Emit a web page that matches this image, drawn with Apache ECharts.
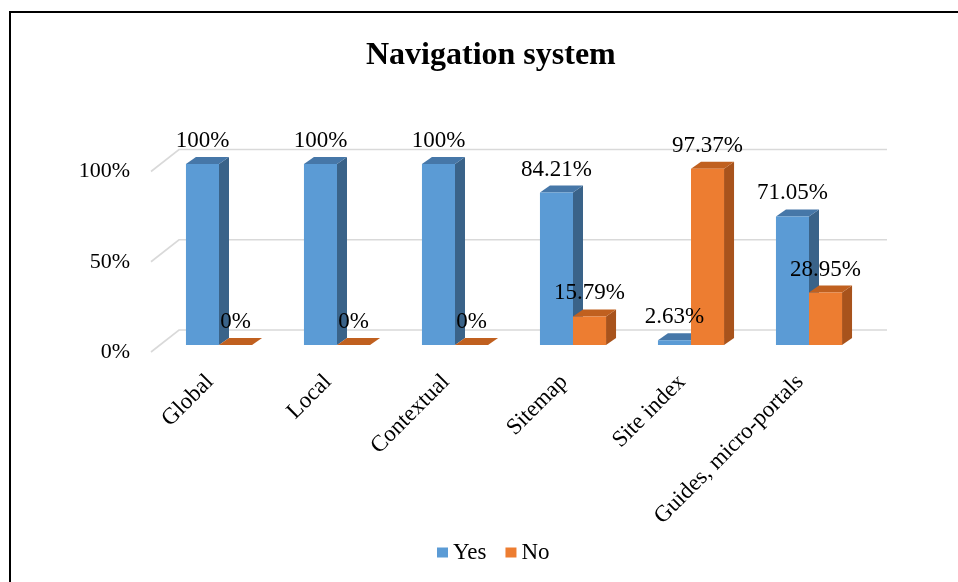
<!DOCTYPE html>
<html>
<head>
<meta charset="utf-8">
<script src="https://cdn.jsdelivr.net/npm/echarts@6/dist/echarts.min.js"></script>
<style>
html,body{margin:0;padding:0;background:#fff;}
#chart{width:958px;height:582px;}
</style>
</head>
<body>
<div id="chart"></div>
<script>
const categories = ['Global', 'Local', 'Contextual', 'Sitemap', 'Site index', 'Guides, micro-portals'];
const yesValues = [100, 100, 100, 84.21, 2.63, 71.05];
const noValues = [0, 0, 0, 15.79, 97.37, 28.95];
const yTicks = [0, 50, 100];

const FONT = "'Liberation Serif', 'Times New Roman', serif";
const DEPTH = [10, -7];      // bar depth (pixels)
const WALL = [28, -22];      // front plane -> back wall offset
const BAR_FRAC = 0.28;       // bar width as fraction of category band

const palette = {
  Yes: { front: '#5b9bd5', side: '#3a6389', top: '#4677a8' },
  No:  { front: '#ed7d31', side: '#a8531c', top: '#c0601f' }
};

function fmt(v) { return v + '%'; }

function barRenderer(name, isLeft) {
  const c = palette[name];
  return function (params, api) {
    const idx = api.value(0), val = api.value(1);
    const base = api.coord([idx, 0]);
    const top = api.coord([idx, val]);
    const band = api.size([1, 0])[0];
    const w = band * BAR_FRAC;
    const x0 = isLeft ? base[0] - w : base[0];
    const yT = top[1], yB = base[1];
    const dx = DEPTH[0], dy = DEPTH[1];
    return {
      type: 'group',
      children: [
        { type: 'polygon', shape: { points: [[x0 + w, yT], [x0 + w + dx, yT + dy], [x0 + w + dx, yB + dy], [x0 + w, yB]] },
          style: { fill: c.side } },
        { type: 'polygon', shape: { points: [[x0, yT], [x0 + dx, yT + dy], [x0 + w + dx, yT + dy], [x0 + w, yT]] },
          style: { fill: c.top } },
        { type: 'rect', shape: { x: x0, y: yT, width: w, height: yB - yT },
          style: { fill: c.front } },
        { type: 'text', z2: 100, style: { text: fmt(val), x: x0 + w / 2, y: yT - 23, align: 'center', verticalAlign: 'middle',
          font: '23px ' + FONT, fill: '#000' } }
      ]
    };
  };
}

const chart = echarts.init(document.getElementById('chart'), null, { renderer: 'canvas' });
chart.setOption({
  backgroundColor: '#fff',
  animation: false,
  title: {
    text: 'Navigation system',
    left: 361,
    top: 35,
    textStyle: { fontFamily: FONT, fontSize: 32, fontWeight: 'bold', color: '#000' }
  },
  legend: {
    data: ['Yes', 'No'],
    left: 432,
    top: 536,
    icon: 'rect',
    itemWidth: 11,
    itemHeight: 10,
    itemGap: 19,
    textStyle: { fontFamily: FONT, fontSize: 23, color: '#000' }
  },
  graphic: [
    { type: 'rect', shape: { x: 10, y: 12, width: 1200, height: 1200 }, style: { fill: 'none', stroke: '#000', lineWidth: 2 }, z: 100 }
  ],
  grid: [
    { left: 160, top: 164, width: 708, height: 181 },      // bar plane
    { left: 151, top: 171.5, width: 708, height: 180.5 },  // front plane (y labels + wall)
    { left: 151, top: 168, width: 708, height: 180.5 }     // category labels
  ],
  xAxis: [
    { type: 'category', gridIndex: 0, data: categories, axisLine: { show: false }, axisTick: { show: false }, axisLabel: { show: false } },
    { type: 'category', gridIndex: 1, data: categories, axisLine: { show: false }, axisTick: { show: false }, axisLabel: { show: false } },
    { type: 'category', gridIndex: 2, data: categories, axisLine: { show: false }, axisTick: { show: false },
      axisLabel: { show: true, interval: 0, rotate: 45, margin: 30, fontFamily: FONT, fontSize: 23, color: '#000' } }
  ],
  yAxis: [
    { type: 'value', gridIndex: 0, min: 0, max: 100, interval: 50, show: false, splitLine: { show: false } },
    { type: 'value', gridIndex: 1, min: 0, max: 100, interval: 50, axisLine: { show: false }, axisTick: { show: false },
      splitLine: { show: false },
      axisLabel: { formatter: '{value}%', margin: 21, fontFamily: FONT, fontSize: 22, color: '#000', padding: [3, 0, 0, 0] } },
    { type: 'value', gridIndex: 2, min: 0, max: 100, interval: 50, show: false, splitLine: { show: false } }
  ],
  series: [
    {
      name: 'wall', type: 'custom', xAxisIndex: 1, yAxisIndex: 1, silent: true,
      data: yTicks.map(v => [0, v]),
      renderItem: function (params, api) {
        const cs = params.coordSys;
        const y = api.coord([0, api.value(1)])[1];
        return {
          type: 'polyline',
          shape: { points: [[cs.x, y], [cs.x + WALL[0], y + WALL[1]], [cs.x + cs.width + WALL[0], y + WALL[1]]] },
          style: { stroke: '#d9d9d9', lineWidth: 1.6, fill: 'none' }
        };
      }
    },
    {
      name: 'Yes', type: 'custom', xAxisIndex: 0, yAxisIndex: 0,
      itemStyle: { color: palette.Yes.front },
      data: yesValues.map((v, i) => [i, v]),
      renderItem: barRenderer('Yes', true)
    },
    {
      name: 'No', type: 'custom', xAxisIndex: 0, yAxisIndex: 0,
      itemStyle: { color: palette.No.front },
      data: noValues.map((v, i) => [i, v]),
      renderItem: barRenderer('No', false)
    }
  ]
});
</script>
</body>
</html>
